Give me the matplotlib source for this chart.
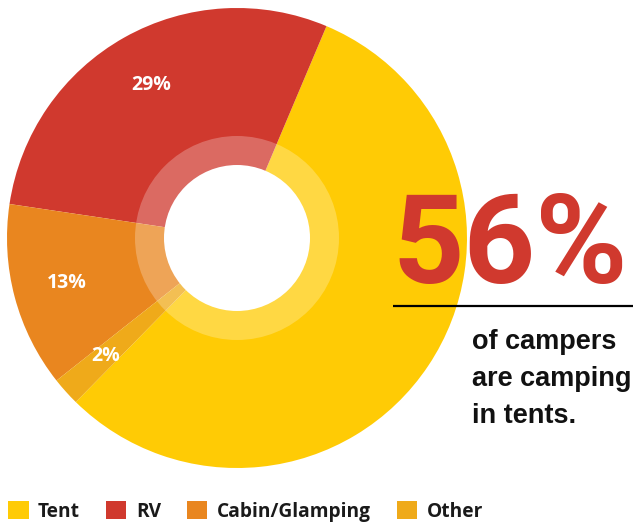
import numpy as np
import matplotlib
matplotlib.use('Agg')
from matplotlib import pyplot as plt
from matplotlib import font_manager
from matplotlib.patches import Circle

# データ
categories = ['Tent', 'RV', 'Cabin/Glamping', 'Other']
shares = [56, 29, 13, 2]
colors = ['#FFCB05', '#D0392E', '#E9861F', '#EFAA1A']
headline = '56%'
caption = ['of campers', 'are camping', 'in tents.']

W, H = 633, 525
fig = plt.figure(figsize=(W / 100, H / 100), dpi=100)
ax = fig.add_axes([0, 0, 1, 1])

# 使えるフォントを確認
installed = {f.name for f in font_manager.fontManager.ttflist}
label_font = 'Open Sans' if 'Open Sans' in installed else 'DejaVu Sans'
cap_font = 'Liberation Sans' if 'Liberation Sans' in installed else 'DejaVu Sans'
big_font = 'Roboto' if 'Roboto' in installed else cap_font

# ドーナツ
cx, cy, R = 237, H - 238, 230
wedges, _, autotexts = ax.pie(
    shares, colors=colors, startangle=225.5, counterclock=True,
    center=(cx, cy), radius=R, frame=True,
    autopct=lambda p: '{:.0f}%'.format(p) if p < 50 else '',
    pctdistance=0.765, wedgeprops=dict(linewidth=0),
    textprops=dict(color='white', fontsize=14, fontweight='bold', family=label_font))

ax.add_patch(Circle((cx, cy), 102, facecolor='white', alpha=0.25, lw=0))
ax.add_patch(Circle((cx, cy), 73, facecolor='white', lw=0))

# 56%
ax.text(392, H - 283, headline, family=big_font, fontweight='bold', fontsize=90,
        color='#D0392E', ha='left', va='baseline')
ax.plot([393, 633], [H - 306, H - 306], color='black', lw=1.6, solid_capstyle='butt')

baselines = [349, 386, 423]
for line, b in zip(caption, baselines):
    ax.text(472, H - b, line, family=cap_font, fontweight='bold', fontsize=19.5,
            color='#111111', ha='left', va='baseline')

# 凡例
ax.legend(wedges, categories, loc='lower left', bbox_to_anchor=(8 / W, 3 / H),
          frameon=False, ncol=4, prop=dict(family=label_font, weight='bold', size=13.8),
          handlelength=1.07, handleheight=1.07, handletextpad=0.5,
          columnspacing=1.35, borderpad=0, borderaxespad=0,
          labelcolor='#1a1a1a')

ax.set_xlim(0, W)
ax.set_ylim(0, H)
ax.set_aspect('equal')
ax.axis('off')

fig.savefig('out.png', dpi=100)
